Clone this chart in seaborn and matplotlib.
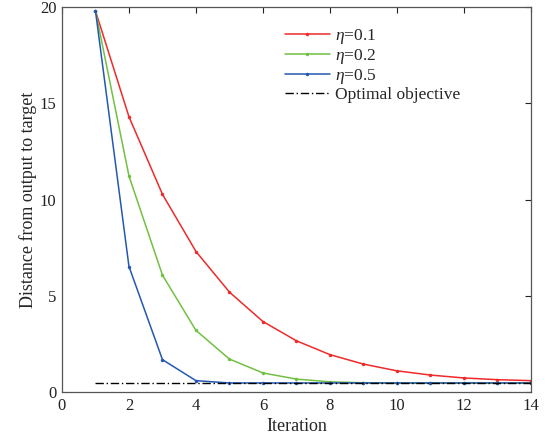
import matplotlib
matplotlib.use("Agg")
import matplotlib.pyplot as plt
import seaborn as sns
import pandas as pd
import numpy as np

iterations = list(range(1, 15))
eta_01 = [19.8, 14.3, 10.27, 7.3, 5.19, 3.66, 2.66, 1.94, 1.45, 1.1, 0.88, 0.73, 0.64, 0.59]
eta_02 = [19.8, 11.22, 6.07, 3.2, 1.71, 0.99, 0.67, 0.53, 0.48, 0.47, 0.47, 0.47, 0.47, 0.47]
eta_05 = [19.8, 6.52, 1.68, 0.59, 0.47, 0.47, 0.47, 0.47, 0.47, 0.47, 0.47, 0.47, 0.47, 0.47]
optimal = 0.47
labels = [r"$\eta$=0.1", r"$\eta$=0.2", r"$\eta$=0.5"]
colors = ["#ee2a2a", "#72c043", "#2458b0"]

sns.set_theme(style="white")
plt.rcParams["font.family"] = ["Liberation Serif", "DejaVu Serif"]
plt.rcParams["mathtext.fontset"] = "custom"
plt.rcParams["mathtext.it"] = "Liberation Serif:italic"
plt.rcParams["mathtext.rm"] = "Liberation Serif"

df = pd.DataFrame({
    "Iteration": iterations * 3,
    "Distance": eta_01 + eta_02 + eta_05,
    "series": [labels[0]] * 14 + [labels[1]] * 14 + [labels[2]] * 14,
})

fig = plt.figure(figsize=(5.47, 4.42), dpi=100)
ax = fig.add_axes([0.1133, 0.1131, 0.8574, 0.8709])

sns.lineplot(data=df, x="Iteration", y="Distance", hue="series", hue_order=labels,
             palette=colors, marker="o", markersize=2.5, markeredgewidth=0,
             linewidth=1.1, ax=ax)
ax.plot([iterations[0], iterations[-1]], [optimal, optimal], color="black",
        linestyle=(0, (6, 2, 1, 2)), linewidth=1.0, label="Optimal objective")

ax.set_xlim(0, 14)
ax.set_ylim(0, 20)
ax.set_xticks(np.arange(0, 15, 2))
ax.set_yticks([0, 5, 10, 15, 20])
ax.set_xlabel("Iteration", fontsize=13, labelpad=3)
ax.set_ylabel("Distance from output to target", fontsize=13, labelpad=2)
ax.tick_params(direction="in", length=4, width=0.8, top=True, right=True,
               labelsize=12, colors="#222222", pad=4)
for s in ax.spines.values():
    s.set_color("#555555")
    s.set_linewidth(0.9)

handles, labs = ax.get_legend_handles_labels()
leg = ax.legend(handles, labs, loc="upper left", bbox_to_anchor=(0.46, 0.966),
                frameon=False, fontsize=12.5, handlelength=2.6, handletextpad=0.3,
                labelspacing=0.05, borderaxespad=0)

fig.savefig("out.png", dpi=100)
